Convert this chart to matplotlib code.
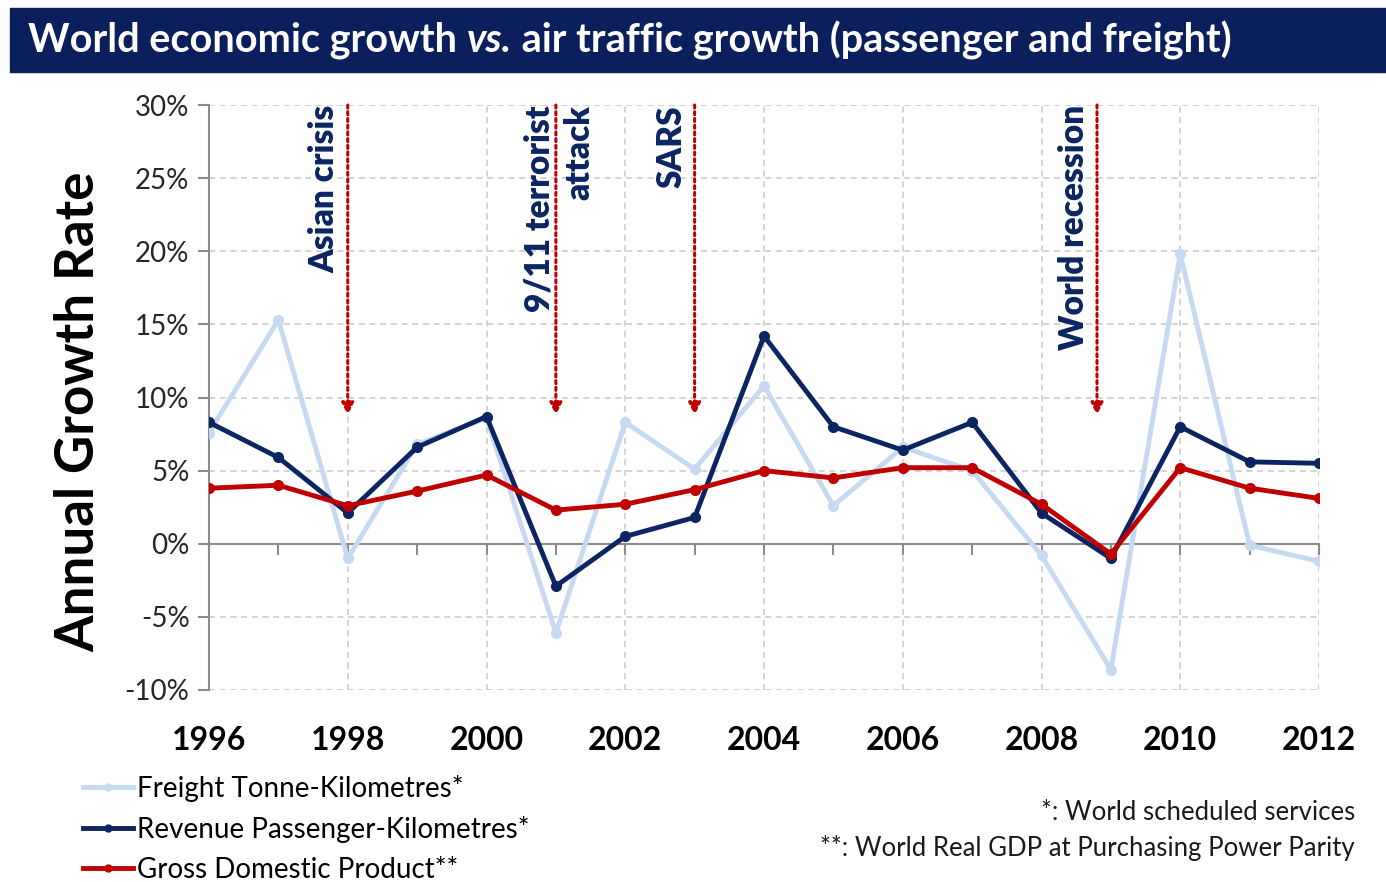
import numpy as np
import matplotlib
matplotlib.use('Agg')
import matplotlib.pyplot as plt
from matplotlib.patches import Rectangle
from matplotlib.ticker import MultipleLocator, FuncFormatter, FixedLocator

plt.rcParams['font.family'] = ['Lato', 'DejaVu Sans']

# Colours
NAVY = '#0c2461'
LIGHT = '#c6d9f1'
RED = '#c00000'
GRID = '#c8c8c8'

years = list(range(1996, 2013))
freight = [7.6, 15.3, -1.0, 6.8, 8.6, -6.1, 8.3, 5.1, 10.8, 2.6, 6.6, 5.0, -0.8, -8.6, 19.8, -0.1, -1.2]
rpk = [8.3, 5.9, 2.1, 6.6, 8.7, -2.9, 0.5, 1.8, 14.2, 8.0, 6.4, 8.3, 2.1, -1.0, 8.0, 5.6, 5.5]
gdp = [3.8, 4.0, 2.6, 3.6, 4.7, 2.3, 2.7, 3.7, 5.0, 4.5, 5.2, 5.2, 2.7, -0.7, 5.2, 3.8, 3.1]

events = ['Asian crisis', '9/11 terrorist\nattack', 'SARS', 'World recession']
event_years = [1998, 2001, 2003, 2008.8]

fig = plt.figure(figsize=(13.86, 8.82), dpi=100)
renderer = fig.canvas.get_renderer()

# title banner
fig.patches.append(Rectangle((10 / 1386, 1 - 72 / 882), 1376 / 1386, 64 / 882,
                             transform=fig.transFigure, color='#0b1f5c', zorder=0))
title_parts = [('World economic growth ', 'normal'), ('vs.', 'italic'),
               (' air traffic growth (passenger and freight)', 'normal')]
x0 = 28
for txt, style in title_parts:
    t = fig.text(x0 / 1386, 1 - 40 / 882, txt, fontsize=28.5, fontweight='bold',
                 fontstyle=style, color='white', va='center', ha='left')
    x0 += t.get_window_extent(renderer).width

ax = fig.add_axes([209 / 1386, 1 - 690 / 882, 1110 / 1386, 585 / 882])

ax.plot(years, freight, color=LIGHT, lw=3.5, marker='o', ms=7, zorder=3,
        label='Freight Tonne-Kilometres*')
ax.plot(years, rpk, color=NAVY, lw=3.5, marker='o', ms=7, zorder=4,
        label='Revenue Passenger-Kilometres*')
ax.plot(years, gdp, color=RED, lw=3.5, marker='o', ms=7, zorder=5,
        label='Gross Domestic Product**')

ax.set_xlim(1996, 2012)
ax.set_ylim(-10, 30)
ax.yaxis.set_major_locator(MultipleLocator(5))
ax.yaxis.set_major_formatter(FuncFormatter(lambda v, p: f'{v:.0f}%'))
ax.xaxis.set_major_locator(FixedLocator(range(1996, 2013, 2)))
ax.xaxis.set_minor_locator(FixedLocator(range(1996, 2013)))

ax.grid(True, which='major', color=GRID, ls=(0, (4, 3)), lw=1.1)
ax.set_axisbelow(True)

for s in ['top', 'right']:
    ax.spines[s].set_visible(False)
ax.spines['left'].set_color('#8c8c8c')
ax.spines['left'].set_linewidth(1.5)
ax.spines['bottom'].set_position(('data', 0))
ax.spines['bottom'].set_color('#8c8c8c')
ax.spines['bottom'].set_linewidth(1.5)

ax.tick_params(axis='x', which='both', direction='out', length=8, width=1.5,
               color='#8c8c8c', labelbottom=False)
ax.tick_params(axis='y', direction='out', length=8, width=1.5, color='#8c8c8c',
               labelsize=20, labelcolor='#262626', pad=6)

sec = ax.secondary_xaxis(0)
sec.set_xticks(list(range(1996, 2013, 2)))
sec.tick_params(axis='x', which='both', length=0, pad=26, labelsize=23)
for lbl in sec.get_xticklabels():
    lbl.set_fontweight('bold')
sec.spines['bottom'].set_visible(False)

ax.set_ylabel('Annual Growth Rate', fontsize=38, fontweight='bold')
ax.yaxis.set_label_coords(-0.095, 0.475)

# event annotations
for name, yr in zip(events, event_years):
    ax.annotate('', xy=(yr, 8.8), xytext=(yr, 30),
                arrowprops=dict(arrowstyle='-|>', color=RED, lw=2.2, ls=(0, (1, 1.2)),
                                mutation_scale=18, shrinkA=0, shrinkB=0), zorder=6)
    if '\n' in name:
        ax.text(yr + 0.05, 30, name, rotation=90, ha='center', va='top', fontsize=24,
                fontweight='heavy', color=NAVY, multialignment='right',
                linespacing=1.3)
    else:
        ax.text(yr - 0.1, 30, name, rotation=90, ha='right', va='top', fontsize=24,
                fontweight='heavy', color=NAVY)

leg = fig.legend(loc='upper left', bbox_to_anchor=(72 / 1386, 1 - 764 / 882),
                 frameon=False, fontsize=20, handlelength=1.8, handletextpad=0.15,
                 labelspacing=0.5, borderaxespad=0)
for h in leg.legend_handles:
    h.set_markersize(5)

fig.text(1355 / 1386, 1 - 813 / 882, '*: World scheduled services', ha='right',
         va='center', fontsize=18.5, color='#1a1a1a')
fig.text(1355 / 1386, 1 - 848 / 882, '**: World Real GDP at Purchasing Power Parity',
         ha='right', va='center', fontsize=18.5, color='#1a1a1a')

fig.savefig('out.png', dpi=100)
